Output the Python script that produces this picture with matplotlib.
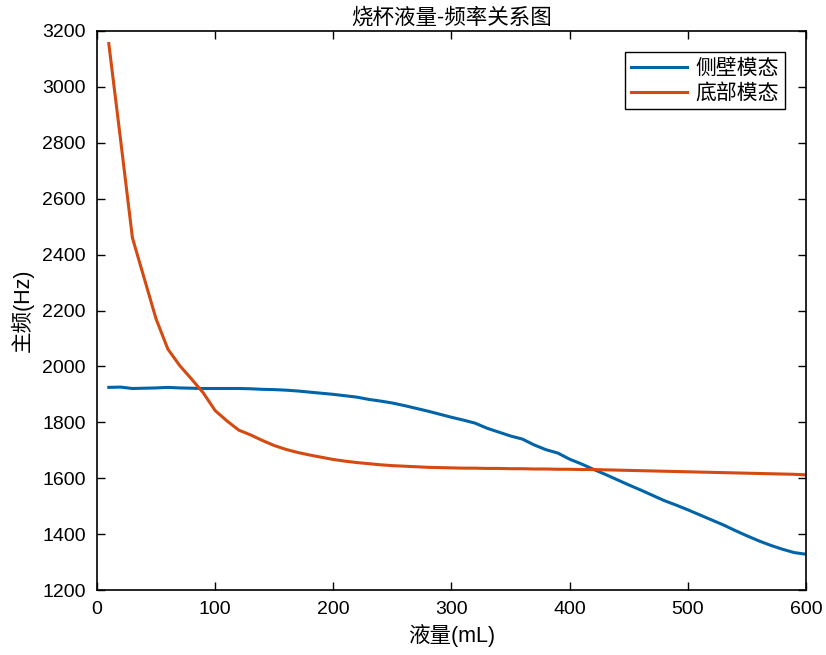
import matplotlib
matplotlib.use("Agg")
from matplotlib import pyplot as plt

plt.rcParams['font.family'] = ['Liberation Sans', 'Noto Sans CJK SC', 'DejaVu Sans']

volume = list(range(10, 601, 10))

side_mode = [1925, 1926, 1921, 1922, 1923, 1925, 1923, 1922, 1921, 1921,
             1921, 1921, 1920, 1918, 1917, 1915, 1912, 1908, 1904, 1900,
             1895, 1890, 1882, 1876, 1869, 1860, 1850, 1840, 1829, 1818,
             1808, 1797, 1779, 1765, 1751, 1740, 1719, 1702, 1690, 1668,
             1651, 1632, 1614, 1595, 1576, 1558, 1539, 1520, 1504, 1487,
             1469, 1451, 1433, 1413, 1394, 1376, 1360, 1346, 1334, 1328]

bottom_mode = [3155, 2810, 2460, 2315, 2170, 2062, 2003, 1955, 1905, 1842,
               1805, 1772, 1755, 1735, 1717, 1703, 1692, 1683, 1675, 1667,
               1661, 1656, 1652, 1648, 1645, 1643, 1641, 1639, 1638, 1637,
               1636, 1636, 1635, 1635, 1634, 1634, 1633, 1633, 1632, 1632,
               1631, 1631, 1630, 1629, 1628, 1627, 1626, 1625, 1624, 1623,
               1622, 1621, 1620, 1619, 1618, 1617, 1616, 1615, 1614, 1612]

fig = plt.figure(figsize=(8.26, 6.55), dpi=100)
ax = fig.add_axes([0.1174, 0.0992, 0.8584, 0.8535])

ax.plot(volume, side_mode, color='#0065A8', lw=2.2, label='侧壁模态')
ax.plot(volume, bottom_mode, color='#D44A10', lw=2.2, label='底部模态')

ax.set_xlim(0, 600)
ax.set_ylim(1200, 3200)
ax.set_xticks(range(0, 601, 100))
ax.set_yticks(range(1200, 3201, 200))
ax.tick_params(direction='in', length=6, width=1, labelsize=14, pad=8,
               top=True, right=True)
for s in ax.spines.values():
    s.set_linewidth(1.2)

ax.set_title('烧杯液量-频率关系图', fontsize=15.5, pad=5)
ax.set_xlabel('液量(mL)', fontsize=15.5, labelpad=4)
ax.set_ylabel('主频(Hz)', fontsize=15.5, labelpad=6)

leg = ax.legend(loc='upper right', fontsize=15, fancybox=False,
                edgecolor='black', framealpha=1, handlelength=2.7,
                handletextpad=0.4, borderaxespad=1.0, borderpad=0.3,
                labelspacing=0.25)
leg.get_frame().set_linewidth(1.0)

plt.savefig('out.png', dpi=100)
